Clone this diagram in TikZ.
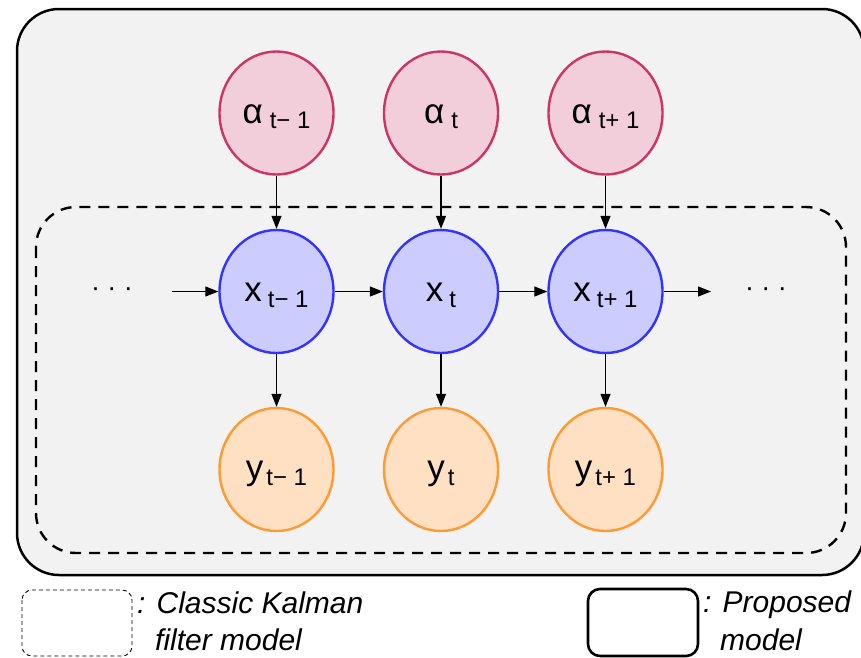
\documentclass[tikz,border=0pt]{standalone}
\usepackage{fontspec}
\setmainfont{Liberation Sans}
\usetikzlibrary{arrows.meta,shapes.geometric}
\definecolor{bgc}{RGB}{242,242,242}
\definecolor{afill}{RGB}{242,206,218}
\definecolor{adraw}{RGB}{204,51,102}
\definecolor{xfill}{RGB}{204,204,255}
\definecolor{xdraw}{RGB}{51,51,255}
\definecolor{yfill}{RGB}{255,224,194}
\definecolor{ydraw}{RGB}{255,153,51}
\newcommand\sbx[1]{\raisebox{-5.5pt}{\fontsize{24}{24}\selectfont #1}}
\begin{document}
\begin{tikzpicture}[x=1pt,y=-1pt,
  var/.style={ellipse, minimum width=114pt, minimum height=123pt, line width=2.4pt, inner sep=0pt},
  avar/.style={var, draw=adraw, fill=afill},
  xvar/.style={var, draw=xdraw, fill=xfill},
  yvar/.style={var, draw=ydraw, fill=yfill},
  lab/.style={anchor=base, inner sep=0pt, font=\fontsize{35}{35}\selectfont},
  arr/.style={-{Triangle[length=13pt,width=10pt]}, line width=1.2pt},
  legtext/.style={anchor=base west, inner sep=0pt, font=\fontsize{30}{37}\selectfont\itshape},
  dots/.style={anchor=base, inner sep=0pt, font=\fontsize{27}{27}\selectfont}]
\useasboundingbox (0,0) rectangle (861,657);
% outer proposed model box
\draw[fill=bgc, line width=2.5pt, rounded corners=42pt] (17,9) rectangle (864,575);
% classic kalman box
\draw[dash pattern=on 11pt off 8pt, line width=2.4pt, rounded corners=40pt] (36,207) rectangle (846,553);
% nodes
\foreach \n/\cx in {1/276.5,2/441,3/605.5}{
  \node[avar] (a\n) at (\cx,113) {};
  \node[xvar] (x\n) at (\cx,291.5) {};
  \node[yvar] (y\n) at (\cx,469.5) {};
}
\node[lab] (la1) at ([yshift=-10pt]a1.center) {α\hspace{7pt}\sbx{t− 1}};
\node[lab] (la2) at ([yshift=-10pt]a2.center) {α\hspace{7pt}\sbx{t}};
\node[lab] (la3) at ([yshift=-10pt]a3.center) {α\hspace{7pt}\sbx{t+ 1}};
\node[lab] (lx1) at ([yshift=-10pt]x1.center) {x\hspace{6pt}\sbx{t− 1}};
\node[lab] (lx2) at ([yshift=-10pt]x2.center) {x\hspace{6pt}\sbx{t}};
\node[lab] (lx3) at ([yshift=-10pt]x3.center) {x\hspace{6pt}\sbx{t+ 1}};
\node[lab] (ly1) at ([yshift=-10pt]y1.center) {y\hspace{3pt}\sbx{t− 1}};
\node[lab] (ly2) at ([yshift=-10pt]y2.center) {y\hspace{3pt}\sbx{t}};
\node[lab] (ly3) at ([yshift=-10pt]y3.center) {y\hspace{3pt}\sbx{t+ 1}};
% dots
\node[dots] (dl) at (112,296) {· · ·};
\node[dots] (dr) at (766,296) {· · ·};
\coordinate (lin) at (172,291.5);
\coordinate (rout) at (711,291.5);
% arrows
\foreach \n in {1,2,3}{
  \draw[arr] (a\n) -- (x\n);
  \draw[arr] (x\n) -- (y\n);
}
\draw[arr] (lin) -- (x1);
\draw[arr] (x1) -- (x2);
\draw[arr] (x2) -- (x3);
\draw[arr] (x3) -- (rout);
% legend
\draw[dash pattern=on 4pt off 3pt, line width=0.9pt, rounded corners=10pt] (22,590) rectangle (132,656);
\node[legtext] (lg1) at (137,613) {: Classic Kalman};
\node[legtext] (lg2) at (155,650) {filter model};
\draw[line width=2.6pt, rounded corners=12pt] (588,589) rectangle (698,656);
\node[legtext] (lg3) at (703,612) {: Proposed};
\node[legtext] (lg4) at (720,650) {model};
\end{tikzpicture}
\end{document}
